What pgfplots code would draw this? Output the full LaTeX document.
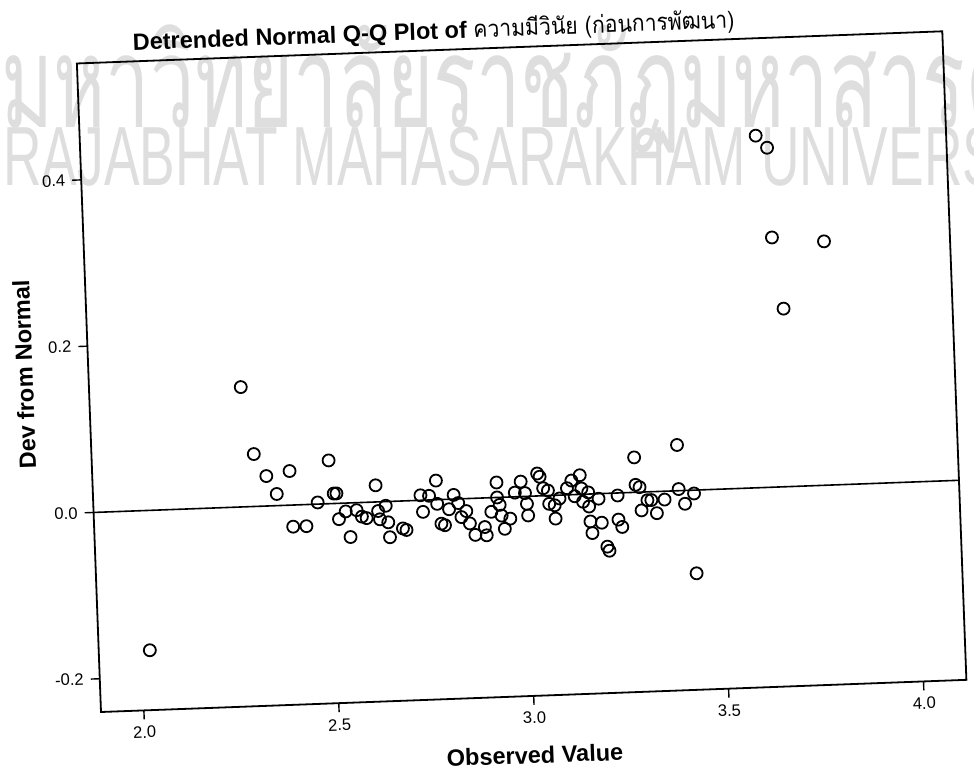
\documentclass[border=0pt]{standalone}
\usepackage{pgfplots}
\pgfplotsset{compat=1.18}
\usepackage{fontspec}
\setmainfont{Liberation Sans}
\newfontfamily\thaifont[Script=Thai]{Loma}
\pgfplotstableread{
x y
2.021 -0.168
2.279 0.144
2.306 0.063
2.336 0.036
2.396 0.041
2.361 0.014
2.497 0.052
2.465 0.002
2.507 0.012
2.514 0.012
2.615 0.020
2.770 0.023
2.536 -0.010
2.564 -0.009
2.518 -0.019
2.577 -0.017
2.589 -0.019
2.400 -0.026
2.434 -0.026
2.546 -0.041
2.639 -0.005
2.619 -0.011
2.623 -0.021
2.644 -0.025
2.729 0.006
2.751 0.005
2.771 -0.005
2.734 -0.014
2.801 -0.012
2.814 0.005
2.780 -0.029
2.789 -0.031
2.825 -0.005
2.845 -0.015
2.832 -0.022
2.853 -0.030
2.681 -0.033
2.690 -0.035
2.647 -0.043
2.866 -0.044
3.391 0.055
3.280 0.042
3.281 0.009
3.291 0.006
3.391 0.002
3.430 -0.004
3.234 -0.003
3.185 -0.006
3.354 -0.010
3.310 -0.010
3.320 -0.010
3.406 -0.016
3.294 -0.022
3.333 -0.026
3.234 -0.032
3.243 -0.041
3.162 -0.033
3.191 -0.035
3.166 -0.047
3.203 -0.064
3.208 -0.069
3.073 -0.028
2.925 0.018
2.987 0.018
3.030 0.027
3.036 0.023
3.117 0.017
3.139 0.023
3.142 0.007
3.105 0.008
3.159 0.002
3.044 0.009
3.056 0.006
2.971 0.005
2.997 0.004
2.925 0.000
2.931 -0.009
3.001 -0.009
3.058 -0.010
3.072 -0.012
3.085 -0.004
3.124 -0.002
3.145 -0.009
3.160 -0.015
3.003 -0.023
2.935 -0.022
2.957 -0.026
2.909 -0.017
2.942 -0.038
2.891 -0.035
2.895 -0.045
3.429 -0.100
3.622 0.423
3.650 0.408
3.654 0.300
3.787 0.293
3.677 0.214
}\points
\begin{document}
\begin{tikzpicture}
\node[anchor=base west, inner sep=0, text=black!13] at (-50pt,292pt) {\scalebox{0.62}[1]{\fontsize{64}{64}\selectfont\thaifont มหาวิทยาลัยราชภัฏมหาสารคาม}};
\node[anchor=base west, inner sep=0, text=black!13] at (-49pt,263pt) {\scalebox{0.635}[1]{\fontsize{42}{42}\selectfont RAJABHAT MAHASARAKHAM UNIVERSITY}};
\begin{scope}[transform canvas={rotate=2.13}]
\begin{axis}[
 at={(0pt,0pt)}, anchor=south west,
 scale only axis, width=433pt, height=324.5pt,
 xmin=1.89, xmax=4.11, ymin=-0.24, ymax=0.54,
 axis line style={line width=0.9pt},
 xtick={2,2.5,3,3.5,4}, xticklabels={2.0,2.5,3.0,3.5,4.0},
 ytick={-0.2,0,0.2,0.4}, yticklabels={-0.2,0.0,0.2,0.4},
 tick align=outside, tick pos=left, major tick length=4.5pt,
 tick style={line width=0.7pt, black},
 ticklabel style={font=\fontsize{8.3}{10}\selectfont},
 xlabel={Observed Value}, ylabel={Dev from Normal},
 label style={font=\fontsize{11.75}{14}\selectfont\bfseries},
 xlabel style={at={(axis description cs:0.499,-0.091)}, anchor=center},
 ylabel style={at={(axis description cs:-0.074,0.524)}, anchor=center},
 clip=false,
]
\addplot[black, line width=0.8pt] coordinates {(1.89,0) (4.11,0)};
\addplot[only marks, mark=o, mark size=3pt, mark options={solid, line width=0.9pt}, black] table {\points};
\node[anchor=base west, inner sep=0pt, font=\fontsize{11.75}{14}\selectfont\bfseries] at (rel axis cs:0.065,1.017) {Detrended Normal Q-Q Plot of {\thaifont\mdseries\scalebox{0.9}[1]{ความมีวินัย (ก่อนการพัฒนา)}}};
\end{axis}
\end{scope}
\pgfresetboundingbox
\path[use as bounding box] (-50.5pt,-29.5pt) rectangle (436.5pt,356pt);
\end{tikzpicture}
\end{document}
